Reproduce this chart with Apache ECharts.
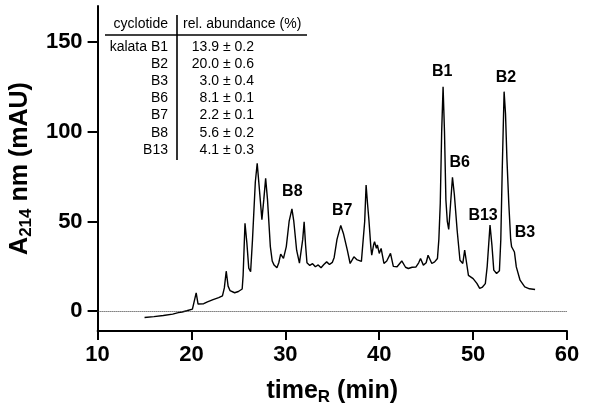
<!DOCTYPE html>
<html>
<head>
<meta charset="utf-8">
<script src="https://cdn.jsdelivr.net/npm/echarts@6/dist/echarts.min.js"></script>
<style>
  html, body { margin: 0; padding: 0; background: #fff; }
  #chart { width: 600px; height: 413px; }
</style>
</head>
<body>
<div id="chart"></div>
<script>
// ---- Data ----
const times = [15.0,16,17,18,18.6,18.8,19.0,19.5,20.1,20.3,20.5,20.7,20.9,21.3,21.7,22.3,22.9,23.3,23.5,23.7,23.9,24.1,24.6,25.0,25.4,25.5,25.7,25.9,26.1,26.3,26.5,26.8,27.0,27.2,27.5,27.7,27.9,28.1,28.4,28.6,28.8,29.1,29.3,29.5,29.8,30.1,30.4,30.7,30.9,31.2,31.5,31.7,31.85,32.0,32.15,32.3,32.6,32.9,33.2,33.5,33.8,34.1,34.4,34.7,35.0,35.2,35.5,35.9,36.2,36.6,36.9,37.1,37.3,37.6,37.8,38.1,38.3,38.45,38.6,38.75,38.9,39.1,39.2,39.4,39.5,39.7,39.8,40.0,40.2,40.5,40.8,41.2,41.5,41.9,42.4,42.8,43.1,43.5,43.9,44.2,44.4,44.7,45.0,45.2,45.6,45.9,46.2,46.35,46.5,46.65,46.8,46.95,47.1,47.25,47.4,47.6,47.8,48.0,48.3,48.6,48.9,49.1,49.3,49.5,50.0,50.4,50.7,51.0,51.3,51.5,51.8,52.0,52.2,52.5,52.8,52.95,53.1,53.3,53.45,53.6,53.8,54.0,54.1,54.4,54.6,55.0,55.5,56.0,56.6];
const absorbance = [-3.5,-3.0,-2.4,-1.6,-0.8,-0.2,-0.4,0.3,1.2,2,10.2,4.0,3.3,4.2,5.2,6.5,7.6,8.6,13,22.3,14,11.5,10.3,11.0,12.4,20,49,38,24,22,40,72,82.4,70,51,62,74,62,36,28,25.7,24.2,27,31.8,29.4,36,50,57,50,34,26.8,27,40,49.8,37,27,25.5,26.5,24.8,25.8,24.2,26,27.5,26,27.2,30,40,47.8,43,34,26.6,27.5,30.3,28.8,28.4,27.8,28,50,70.3,60,50.8,36,31.2,37,38.7,35,37,32.2,35,26.6,28,32.2,25,24.8,28,24.5,23.8,24.5,24.6,27,29.4,25.7,27,31.2,26.6,27.5,29.4,40,60,100,125,100,62,50,45.6,60,74.6,65,45,28.4,26.6,34,27,20,18.2,15.5,12.7,13.5,15.4,25,48,37,22.9,21,22.5,40,78.6,122.3,110,85,60,40,35.9,33,24.7,17.3,13.6,12.5,12.1];

// peak annotations (label centre, in data units)
const peakNames = ['B8','B7','B1','B2','B6','B13','B3'];
const peakLabelTimes = [30.74,36.06,46.7,53.5,48.56,51.06,55.53];
const peakLabelHeights = [66.4,55.8,133.3,130,82.8,53,43.8];

// inset table
const cyclotides = ['kalata B1','B2','B3','B6','B7','B8','B13'];
const abundances = ['13.9 ± 0.2','20.0 ± 0.6','3.0 ± 0.4','8.1 ± 0.1','2.2 ± 0.1','5.6 ± 0.2','4.1 ± 0.3'];
const tableHeader = ['cyclotide','rel. abundance (%)'];

// axis ticks
const xTicks = [10,20,30,40,50,60];
const yTicks = [0,50,100,150];

const FONT = '"Liberation Sans", Arial, Helvetica, sans-serif';

const chart = echarts.init(document.getElementById('chart'), null, {renderer: 'canvas'});

const lineData = times.map((t, i) => [t, absorbance[i]]);
const peakData = peakNames.map((n, i) => ({name: n, value: [peakLabelTimes[i], peakLabelHeights[i]]}));

// table graphics
const tableGraphics = [];
const rowY0 = 46.7, rowStep = 17.2;
tableGraphics.push({type:'text', x:168, y:24, style:{text:tableHeader[0], font:'14px ' + FONT, fill:'#000', align:'right', verticalAlign:'middle'}});
tableGraphics.push({type:'text', x:183, y:24, style:{text:tableHeader[1], font:'14px ' + FONT, fill:'#000', align:'left', verticalAlign:'middle'}});
tableGraphics.push({type:'line', shape:{x1:105, y1:35, x2:307, y2:35}, style:{stroke:'#000', lineWidth:1.6}});
tableGraphics.push({type:'line', shape:{x1:177, y1:15, x2:177, y2:160}, style:{stroke:'#000', lineWidth:1.6}});
cyclotides.forEach((c, i) => {
  tableGraphics.push({type:'text', x:168, y:rowY0 + i*rowStep, style:{text:c, font:'14px ' + FONT, fill:'#000', align:'right', verticalAlign:'middle'}});
  tableGraphics.push({type:'text', x:254, y:rowY0 + i*rowStep, style:{text:abundances[i], font:'14px ' + FONT, fill:'#000', align:'right', verticalAlign:'middle'}});
});

const option = {
  animation: false,
  backgroundColor: '#fff',
  grid: {left: 97, right: 33, top: 6, bottom: 82, containLabel: false},
  xAxis: {
    type: 'value', min: 10, max: 60, interval: 10,
    axisLine: {onZero: false, lineStyle: {color: '#000', width: 2}},
    axisTick: {show: true, length: 9, lineStyle: {color: '#000', width: 2}},
    axisLabel: {color: '#000', fontSize: 22, fontWeight: 'bold', fontFamily: FONT, margin: 13},
    splitLine: {show: false},
    name: '{a|time}{s|R}{a| (min)}',
    nameLocation: 'middle', nameGap: 46,
    nameTextStyle: {
      rich: {
        a: {fontSize: 25, fontWeight: 'bold', fontFamily: FONT, color: '#000'},
        s: {fontSize: 17, fontWeight: 'bold', fontFamily: FONT, color: '#000', padding: [12, 0, 0, 0]}
      }
    }
  },
  yAxis: {
    type: 'value', min: -11, max: 170,
    axisLine: {show: true, lineStyle: {color: '#000', width: 2}},
    axisTick: {show: true, length: 10, customValues: yTicks, lineStyle: {color: '#000', width: 2}},
    axisLabel: {color: '#000', fontSize: 22, fontWeight: 'bold', fontFamily: FONT, margin: 15, customValues: yTicks},
    splitLine: {show: false},
    name: '{a|A}{s|214}{a| nm (mAU)}',
    nameLocation: 'middle', nameGap: 55,
    nameTextStyle: {
      rich: {
        a: {fontSize: 25, fontWeight: 'bold', fontFamily: FONT, color: '#000'},
        s: {fontSize: 17, fontWeight: 'bold', fontFamily: FONT, color: '#000', padding: [12, 0, 0, 0]}
      }
    }
  },
  series: [
    {
      type: 'line', data: lineData, showSymbol: false, symbol: 'none',
      lineStyle: {color: '#000', width: 1.4}, silent: true,
      markLine: {
        silent: true, symbol: 'none', label: {show: false},
        lineStyle: {type: 'dotted', color: '#333', width: 1},
        data: [{yAxis: 0}]
      }
    },
    {
      type: 'scatter', data: peakData, symbolSize: 0, silent: true,
      itemStyle: {opacity: 1},
      label: {show: true, position: 'inside', formatter: p => p.name, opacity: 1,
        fontSize: 16, fontWeight: 'bold', fontFamily: FONT, color: '#000'}
    }
  ],
  graphic: tableGraphics
};
chart.setOption(option);
</script>
</body>
</html>
